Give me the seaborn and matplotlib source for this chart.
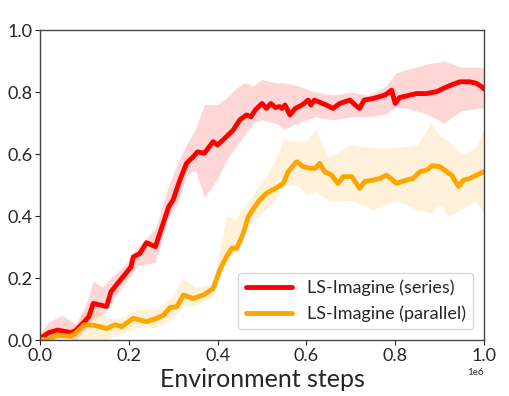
import matplotlib
matplotlib.use("Agg")
import matplotlib.pyplot as plt
import seaborn as sns
import numpy as np
import pandas as pd

sns.set_theme(style="ticks")
plt.rcParams["font.family"] = ["Lato", "DejaVu Sans"]
plt.rcParams["axes.edgecolor"] = "#444444"
plt.rcParams["axes.linewidth"] = 1.0

# ---- data (x in units of 1e6 environment steps) ----
series_x = [0.0, 0.02, 0.04, 0.07, 0.08, 0.10, 0.11, 0.12, 0.15, 0.16, 0.175, 0.19, 0.205, 0.21,
            0.225, 0.24, 0.26, 0.275, 0.29, 0.30, 0.315, 0.33, 0.345, 0.355, 0.37, 0.39, 0.40,
            0.42, 0.435, 0.45, 0.465, 0.475, 0.485, 0.50, 0.51, 0.52, 0.53, 0.54, 0.545, 0.552,
            0.563, 0.575, 0.59, 0.604, 0.61, 0.618, 0.645, 0.66, 0.675, 0.698, 0.71, 0.72, 0.73,
            0.75, 0.777, 0.792, 0.80, 0.81, 0.833, 0.848, 0.87, 0.893, 0.909, 0.927, 0.946,
            0.968, 0.983, 0.995, 1.0]
series_y = [0.005, 0.024, 0.032, 0.024, 0.03, 0.059, 0.075, 0.118, 0.108, 0.156, 0.183, 0.209,
            0.236, 0.268, 0.279, 0.314, 0.301, 0.366, 0.43, 0.452, 0.516, 0.57, 0.591, 0.607,
            0.602, 0.64, 0.629, 0.656, 0.677, 0.71, 0.726, 0.72, 0.742, 0.763, 0.747, 0.763,
            0.75, 0.753, 0.747, 0.758, 0.726, 0.747, 0.758, 0.774, 0.758, 0.774, 0.758, 0.747,
            0.763, 0.774, 0.758, 0.747, 0.774, 0.779, 0.79, 0.806, 0.763, 0.782, 0.79, 0.795,
            0.795, 0.801, 0.812, 0.823, 0.833, 0.833, 0.828, 0.817, 0.81]

series_band_x = [0.0, 0.02, 0.05, 0.08, 0.10, 0.12, 0.14, 0.16, 0.19, 0.22, 0.26, 0.29, 0.31,
                 0.33, 0.35, 0.37, 0.40, 0.42, 0.44, 0.46, 0.48, 0.50, 0.53, 0.55, 0.58, 0.62,
                 0.66, 0.70, 0.74, 0.78, 0.80, 0.82, 0.87, 0.91, 0.95, 1.0]
series_lo = [0.0, 0.0, 0.01, 0.0, 0.03, 0.07, 0.08, 0.12, 0.18, 0.24, 0.25, 0.40, 0.44, 0.53,
             0.55, 0.46, 0.52, 0.58, 0.62, 0.66, 0.70, 0.71, 0.70, 0.68, 0.70, 0.72, 0.71, 0.72,
             0.72, 0.73, 0.75, 0.75, 0.73, 0.70, 0.74, 0.75]
series_hi = [0.02, 0.06, 0.08, 0.05, 0.10, 0.19, 0.17, 0.20, 0.24, 0.30, 0.36, 0.50, 0.57, 0.63,
             0.68, 0.76, 0.76, 0.78, 0.81, 0.83, 0.82, 0.84, 0.83, 0.83, 0.82, 0.80, 0.79, 0.80,
             0.79, 0.82, 0.86, 0.87, 0.89, 0.90, 0.88, 0.88]

parallel_x = [0.0, 0.019, 0.038, 0.068, 0.079, 0.10, 0.124, 0.15, 0.169, 0.184, 0.21, 0.24,
              0.263, 0.278, 0.293, 0.308, 0.323, 0.345, 0.368, 0.39, 0.405, 0.42, 0.432, 0.443,
              0.458, 0.469, 0.484, 0.495, 0.51, 0.53, 0.548, 0.559, 0.578, 0.593, 0.608, 0.62,
              0.63, 0.641, 0.657, 0.671, 0.683, 0.702, 0.72, 0.731, 0.75, 0.766, 0.78, 0.792,
              0.803, 0.826, 0.84, 0.856, 0.871, 0.883, 0.901, 0.916, 0.927, 0.943, 0.954, 0.968,
              0.983, 1.0]
parallel_y = [0.002, 0.0, 0.016, 0.012, 0.02, 0.049, 0.047, 0.037, 0.049, 0.043, 0.07, 0.059,
              0.07, 0.08, 0.105, 0.107, 0.145, 0.134, 0.145, 0.166, 0.226, 0.269, 0.296, 0.296,
              0.344, 0.398, 0.43, 0.452, 0.473, 0.489, 0.505, 0.543, 0.575, 0.559, 0.554, 0.554,
              0.57, 0.543, 0.532, 0.505, 0.527, 0.527, 0.489, 0.511, 0.516, 0.521, 0.532, 0.519,
              0.505, 0.516, 0.521, 0.543, 0.548, 0.562, 0.559, 0.543, 0.532, 0.495, 0.516, 0.521,
              0.532, 0.543]

parallel_band_x = [0.0, 0.04, 0.08, 0.10, 0.12, 0.15, 0.18, 0.22, 0.26, 0.30, 0.32, 0.35, 0.39,
                   0.42, 0.44, 0.47, 0.50, 0.53, 0.55, 0.58, 0.60, 0.62, 0.65, 0.70, 0.75, 0.80,
                   0.85, 0.88, 0.90, 0.92, 0.95, 0.98, 1.0]
parallel_lo = [0.0, 0.0, 0.0, 0.0, 0.0, 0.0, 0.02, 0.04, 0.04, 0.07, 0.11, 0.11, 0.14, 0.26,
               0.28, 0.37, 0.41, 0.45, 0.50, 0.50, 0.47, 0.48, 0.45, 0.45, 0.42, 0.45, 0.42,
               0.41, 0.44, 0.40, 0.42, 0.45, 0.41]
parallel_hi = [0.01, 0.03, 0.05, 0.10, 0.11, 0.07, 0.07, 0.10, 0.10, 0.14, 0.20, 0.17, 0.18,
               0.40, 0.39, 0.45, 0.51, 0.58, 0.65, 0.64, 0.64, 0.68, 0.59, 0.63, 0.62, 0.62,
               0.63, 0.70, 0.66, 0.64, 0.60, 0.62, 0.68]

labels = ["LS-Imagine (series)", "LS-Imagine (parallel)"]
colors = ["#ff0000", "#ffa500"]

df = pd.concat([
    pd.DataFrame({"step": np.array(series_x) * 1e6, "score": series_y, "method": labels[0]}),
    pd.DataFrame({"step": np.array(parallel_x) * 1e6, "score": parallel_y, "method": labels[1]}),
])

fig = plt.figure(figsize=(5.1, 3.96), dpi=100)
ax = fig.add_axes([0.0784, 0.1414, 0.8706, 0.7828])

ax.fill_between(np.array(series_band_x) * 1e6, series_lo, series_hi,
                color=colors[0], alpha=0.16, linewidth=0)
ax.fill_between(np.array(parallel_band_x) * 1e6, parallel_lo, parallel_hi,
                color=colors[1], alpha=0.15, linewidth=0)

sns.lineplot(data=df, x="step", y="score", hue="method", palette=colors,
             linewidth=3.5, ax=ax, sort=True)

ax.set_xlim(0, 1e6)
ax.set_ylim(0, 1.0)
ax.set_xticks(np.arange(0, 1.01e6, 2e5))
ax.set_yticks(np.arange(0, 1.01, 0.2))
ax.tick_params(axis="both", labelsize=13, length=3.5, width=0.8, pad=2)
ax.xaxis.get_offset_text().set_fontsize(7)
ax.set_xlabel("Environment steps", fontsize=18, labelpad=3)
ax.set_ylabel("")

leg = ax.legend(loc="lower right", fontsize=13, handlelength=2.6, frameon=True,
                borderaxespad=0.6)
leg.set_title(None)
for line in leg.get_lines():
    line.set_linewidth(3.5)

fig.savefig("out.png", dpi=100)
